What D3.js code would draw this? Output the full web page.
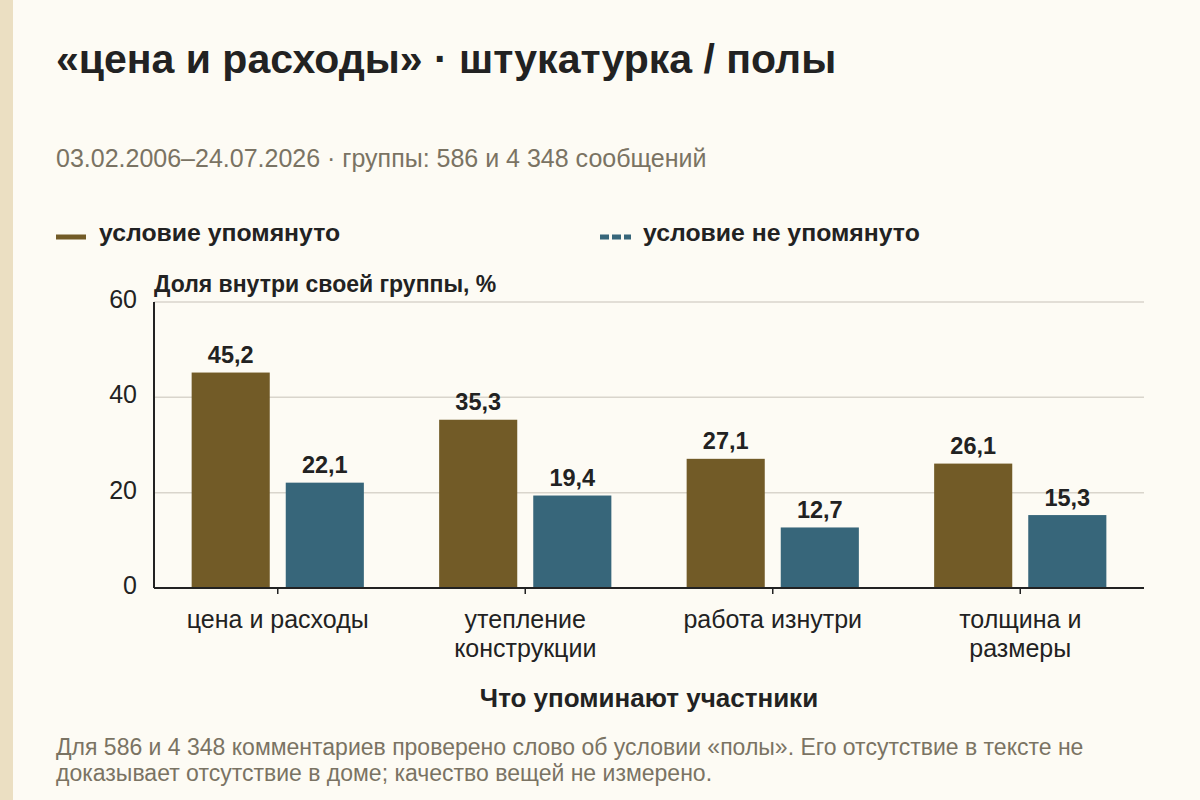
<!DOCTYPE html>
<html><head><meta charset="utf-8">
<script src="https://cdn.jsdelivr.net/npm/d3@7/dist/d3.min.js"></script>
<style>
html,body{margin:0;padding:0;background:#fdfbf4;}
svg{display:block;font-family:"Liberation Sans",Arial,sans-serif;}
</style></head>
<body>
<svg id="c" width="1200" height="800"></svg>
<script>
const categories = [["цена и расходы"], ["утепление", "конструкции"], ["работа изнутри"], ["толщина и", "размеры"]];
const seriesNames = ["условие упомянуто", "условие не упомянуто"];
const mentioned = [45.2, 35.3, 27.1, 26.1];
const notMentioned = [22.1, 19.4, 12.7, 15.3];
const yTicks = [0, 20, 40, 60];
const colors = ["#725b27", "#37667a"];

const svg = d3.select("#c");
svg.append("rect").attr("x",0).attr("y",0).attr("width",1200).attr("height",800).attr("fill","#fdfbf4");
svg.append("rect").attr("x",0).attr("y",0).attr("width",13).attr("height",800).attr("fill","#ebdfc2");

svg.append("text").attr("x",56).attr("y",73).attr("font-size",41).attr("font-weight","bold").attr("fill","#222")
  .text("«цена и расходы» · штукатурка / полы");
svg.append("text").attr("x",56).attr("y",167).attr("font-size",25).attr("fill","#7a7363")
  .text("03.02.2006–24.07.2026 · группы: 586 и 4 348 сообщений");

// legend
const lg = svg.append("g");
lg.append("line").attr("x1",56).attr("x2",86).attr("y1",237).attr("y2",237).attr("stroke",colors[0]).attr("stroke-width",5);
lg.append("text").attr("x",99).attr("y",241).attr("font-size",24.8).attr("font-weight","bold").attr("fill","#222").text(seriesNames[0]);
lg.append("line").attr("x1",600).attr("x2",631).attr("y1",237).attr("y2",237).attr("stroke",colors[1]).attr("stroke-width",5).attr("stroke-dasharray","9,3");
lg.append("text").attr("x",643).attr("y",241).attr("font-size",24.8).attr("font-weight","bold").attr("fill","#222").text(seriesNames[1]);

const L=154, R=1144, T=302, B=588;
const keys = categories.map(c => c.join(" "));
const x0 = d3.scaleBand().domain(keys).range([L,R]).padding(0);
const x1 = d3.scaleBand().domain([0,1]).range([0,x0.bandwidth()]).paddingInner(0.17).paddingOuter(0.4);
const y = d3.scaleLinear().domain([0,60]).range([B,T]);

// grid
svg.append("g").selectAll("line").data(yTicks.filter(d=>d>0)).join("line")
  .attr("x1",L).attr("x2",R).attr("y1",d=>y(d)).attr("y2",d=>y(d))
  .attr("stroke","#d9d5cc").attr("stroke-width",1.5);

// y labels
svg.append("g").selectAll("text").data(yTicks).join("text")
  .attr("x",137).attr("y",d=>y(d)+6).attr("text-anchor","end").attr("font-size",25).attr("fill","#222").text(d=>d);

svg.append("text").attr("x",L).attr("y",292).attr("font-size",23).attr("font-weight","bold").attr("fill","#222")
  .text("Доля внутри своей группы, %");

// bars
const data = keys.map((k,i)=>({k, vals:[mentioned[i], notMentioned[i]]}));
const fmt = v => d3.format(".1f")(v).replace(".", ",");
const g = svg.append("g").selectAll("g").data(data).join("g").attr("transform",d=>`translate(${x0(d.k)},0)`);
g.selectAll("rect").data(d=>d.vals.map((v,j)=>({v,j}))).join("rect")
  .attr("x",d=>x1(d.j)).attr("width",x1.bandwidth()).attr("y",d=>y(d.v)).attr("height",d=>B-y(d.v))
  .attr("fill",d=>colors[d.j]);
g.selectAll("text").data(d=>d.vals.map((v,j)=>({v,j}))).join("text")
  .attr("x",d=>x1(d.j)+x1.bandwidth()/2).attr("y",d=>y(d.v)-9.5).attr("text-anchor","middle")
  .attr("font-size",23.5).attr("font-weight","bold").attr("fill","#222").text(d=>fmt(d.v));

// axes lines
svg.append("line").attr("x1",L).attr("x2",L).attr("y1",T).attr("y2",B).attr("stroke","#222").attr("stroke-width",2);
svg.append("line").attr("x1",L).attr("x2",R).attr("y1",B).attr("y2",B).attr("stroke","#222").attr("stroke-width",2);

// x ticks & labels
const xt = svg.append("g").selectAll("g").data(categories).join("g")
  .attr("transform",(d,i)=>`translate(${x0(keys[i])+x0.bandwidth()/2},${B})`);
xt.append("line").attr("y1",0).attr("y2",6).attr("stroke","#222").attr("stroke-width",1.5);
xt.each(function(d){
  const t = d3.select(this).append("text").attr("text-anchor","middle").attr("font-size",25).attr("fill","#222");
  d.forEach((line,i)=>t.append("tspan").attr("x",0).attr("y",40+i*29).text(line));
});

svg.append("text").attr("x",649).attr("y",707).attr("text-anchor","middle").attr("font-size",26).attr("font-weight","bold").attr("fill","#222")
  .text("Что упоминают участники");

const note = svg.append("text").attr("font-size",23).attr("fill","#7a7363");
note.append("tspan").attr("x",56).attr("y",755).text("Для 586 и 4 348 комментариев проверено слово об условии «полы». Его отсутствие в тексте не");
note.append("tspan").attr("x",56).attr("y",781).text("доказывает отсутствие в доме; качество вещей не измерено.");
</script>
</body></html>
